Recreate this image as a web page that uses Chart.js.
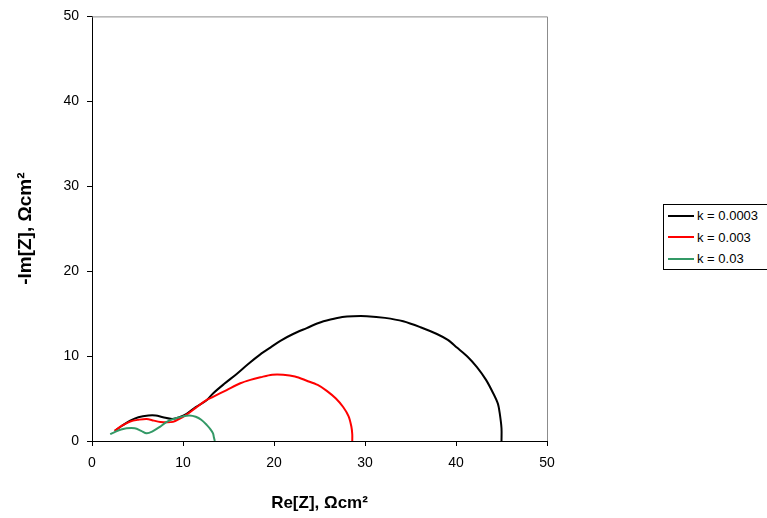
<!DOCTYPE html>
<html>
<head>
<meta charset="utf-8">
<script src="https://cdn.jsdelivr.net/npm/chart.js@4/dist/chart.umd.min.js"></script>
<style>
html,body{margin:0;padding:0;background:#fff;}
#wrap{position:relative;width:767px;height:518px;overflow:hidden;}
#legend{position:absolute;left:663px;top:204px;width:120px;height:64px;border:1px solid #000;background:#fff;font:13px "Liberation Sans",Arial,sans-serif;color:#000;}
.item{position:absolute;left:4px;height:14px;line-height:14px;white-space:nowrap;}
.item span.sw{display:inline-block;width:26px;height:2px;vertical-align:middle;margin-right:3px;position:relative;top:-1px;}
</style>
</head>
<body>
<div id="wrap">
<canvas id="c" width="767" height="518"></canvas>
<div id="legend"></div>
</div>
<script>
// Data
const seriesLabels = ["k = 0.0003", "k = 0.003", "k = 0.03"];
const k0003X = [2.5, 3.3, 4.2, 5.1, 6.2, 7.0, 7.8, 8.8, 9.6, 10.4, 11.4, 12.6, 13.3, 14.5, 15.9, 17.2, 18.5, 19.6, 20.7, 22.1, 23.6, 24.9, 26.2, 27.5, 28.7, 30.2, 32.2, 34.2, 36.1, 37.9, 39.1, 40.1, 41.3, 42.3, 43.3, 44.1, 44.6, 44.8, 45.0, 45.0];
const k0003Y = [1.2, 1.8, 2.4, 2.8, 3.0, 3.0, 2.8, 2.6, 2.8, 3.2, 4.0, 4.8, 5.6, 6.7, 7.9, 9.1, 10.2, 11.0, 11.8, 12.6, 13.3, 13.9, 14.3, 14.6, 14.7, 14.7, 14.5, 14.1, 13.4, 12.6, 11.9, 11.0, 9.9, 8.7, 7.2, 5.6, 4.4, 3.3, 1.5, 0.0];
const k003X = [2.5, 3.3, 4.2, 5.1, 6.0, 6.8, 7.5, 8.2, 8.9, 9.6, 10.4, 11.4, 12.4, 13.3, 14.8, 16.3, 17.4, 18.5, 19.8, 21.0, 22.3, 23.6, 24.8, 25.8, 26.8, 27.6, 28.2, 28.5, 28.6, 28.6];
const k003Y = [1.2, 1.8, 2.3, 2.5, 2.6, 2.4, 2.25, 2.2, 2.25, 2.6, 3.1, 3.9, 4.7, 5.2, 6.0, 6.8, 7.2, 7.5, 7.8, 7.8, 7.6, 7.1, 6.6, 5.9, 5.0, 4.0, 2.9, 1.7, 0.8, 0.0];
const k03X = [2.0, 2.6, 3.2, 3.8, 4.7, 5.4, 6.0, 6.6, 7.5, 8.0, 8.6, 9.3, 10.0, 10.7, 11.4, 12.0, 12.6, 13.0, 13.3, 13.4, 13.5];
const k03Y = [0.8, 1.1, 1.35, 1.5, 1.5, 1.2, 0.9, 1.1, 1.7, 2.1, 2.45, 2.7, 2.9, 3.0, 2.85, 2.5, 1.9, 1.4, 0.9, 0.4, 0.0];
const seriesColors = ["#000000", "#ff0000", "#339966"];
const xTitle = "Re[Z], \u03A9cm\u00B2";
const yTitle = "-Im[Z], \u03A9cm\u00B2";

function pts(xs, ys){ return xs.map((x,i)=>({x:x, y:ys[i]})); }
const allX = [k0003X, k003X, k03X];
const allY = [k0003Y, k003Y, k03Y];

const FONT = '"Liberation Sans", Arial, sans-serif';

const datasets = seriesLabels.map((lab,i)=>({
  label: lab,
  data: pts(allX[i], allY[i]),
  borderColor: seriesColors[i],
  backgroundColor: seriesColors[i],
  borderWidth: 2,
  pointRadius: 0,
  showLine: true,
  tension: 0.3,
  fill: false,
  order: 3 - i
}));

const frame = {
  id: 'frame',
  afterDraw(chart){
    const a = chart.chartArea, ctx = chart.ctx;
    ctx.save();
    ctx.strokeStyle = '#8c8c8c';
    ctx.lineWidth = 1;
    ctx.beginPath();
    ctx.moveTo(a.left, a.top + 0.5);
    ctx.lineTo(a.right + 0.5, a.top + 0.5);
    ctx.lineTo(a.right + 0.5, a.bottom);
    ctx.stroke();
    ctx.restore();
  }
};

new Chart(document.getElementById('c'), {
  type: 'scatter',
  data: { datasets },
  plugins: [frame],
  options: {
    responsive: false,
    animation: false,
    layout: { padding: { top: 12, right: 220, left: 0, bottom: 0 } },
    plugins: { legend: { display: false }, tooltip: { enabled: false } },
    scales: {
      x: {
        type: 'linear', min: 0, max: 50,
        ticks: { stepSize: 10, color: '#000', font: { family: FONT, size: 14 }, padding: 9 },
        grid: { display: true, drawOnChartArea: false, drawTicks: true, tickLength: 5, color: '#000' },
        border: { display: true, color: '#000', width: 1 },
        title: { display: true, text: xTitle, color: '#000', font: { family: FONT, size: 17, weight: 'bold' }, padding: { top: 10 } },
        afterFit(s){ s.height = 77; }
      },
      y: {
        type: 'linear', min: 0, max: 50,
        ticks: { stepSize: 10, color: '#000', font: { family: FONT, size: 14 }, padding: 8 },
        grid: { display: true, drawOnChartArea: false, drawTicks: true, tickLength: 5, color: '#000' },
        border: { display: true, color: '#000', width: 1 },
        title: { display: true, text: yTitle, color: '#000', font: { family: FONT, size: 19, weight: 'bold' }, padding: { top: 14 } },
        afterFit(s){ s.width = 92; }
      }
    }
  }
});

const lg = document.getElementById('legend');
seriesLabels.forEach((lab,i)=>{
  const d = document.createElement('div');
  d.className = 'item';
  d.style.top = (4 + i*21.5) + 'px';
  d.innerHTML = '<span class="sw" style="background:'+seriesColors[i]+'"></span>' + lab;
  lg.appendChild(d);
});
</script>
</body>
</html>
